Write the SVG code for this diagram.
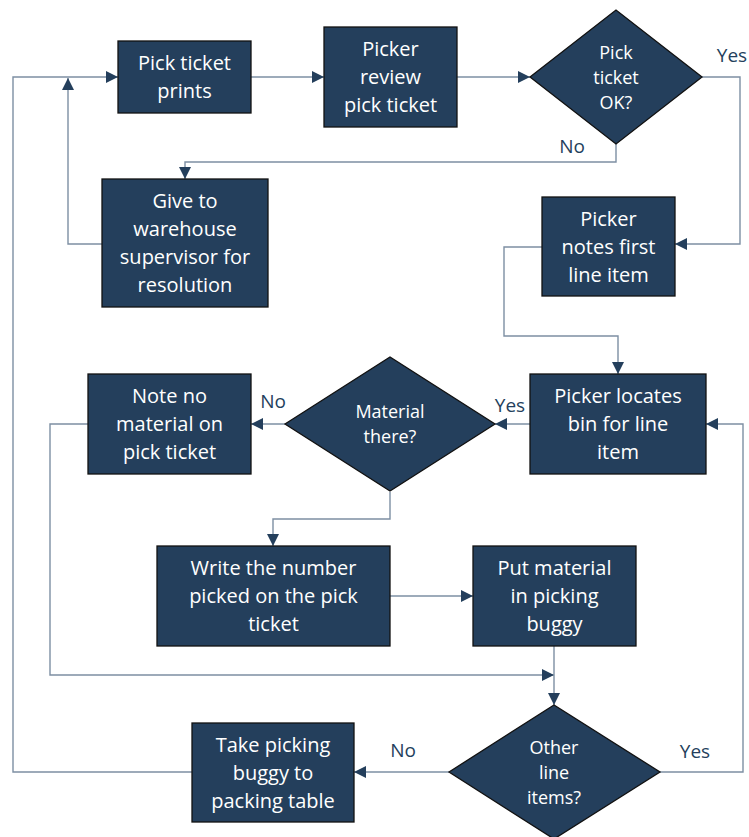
<svg xmlns="http://www.w3.org/2000/svg" width="749" height="837" viewBox="0 0 749 837">
<style>
.box{fill:#243F5C;stroke:#111;stroke-width:1.3}
.t{fill:#fff;font-family:"Open Sans","Liberation Sans",sans-serif;font-size:20px;text-anchor:middle}
.td{fill:#fff;font-family:"Open Sans","Liberation Sans",sans-serif;font-size:18px;text-anchor:middle}
.lbl{fill:#243F5C;font-family:"Open Sans","Liberation Sans",sans-serif;font-size:19px;text-anchor:middle}
.c{fill:none;stroke:#7D8FA3;stroke-width:1.4;marker-end:url(#ah)}
.cn{fill:none;stroke:#7D8FA3;stroke-width:1.4}
</style>
<defs>
<marker id="ah" markerUnits="userSpaceOnUse" markerWidth="13" markerHeight="13" viewBox="0 0 13 13" refX="12" refY="6.5" orient="auto">
<path d="M0,0.5 L12,6.5 L0,12.5 Z" fill="#243F5C"/>
</marker>
</defs>
<rect width="749" height="837" fill="#fff"/>
<g id="connectors">
<path class="c" d="M251,77 H324"/>
<path class="c" d="M457,77 H530"/>
<path class="c" d="M702,77 H740 V244 H675"/>
<path class="c" d="M616,144 V162 H185 V179"/>
<path class="c" d="M102,244 H68 V78"/>
<path class="c" d="M542,247 H504 V336 H618 V374"/>
<path class="c" d="M530,424 H495"/>
<path class="c" d="M285,424 H251"/>
<path class="c" d="M390,492 V519 H273 V546"/>
<path class="c" d="M390,596 H473"/>
<path class="c" d="M88,424 H50 V675 H554"/>
<path class="c" d="M554,646 V705"/>
<path class="c" d="M660,772 H743 V424 H706"/>
<path class="c" d="M449,772 H354"/>
<path class="c" d="M192,772 H13 V77 H118"/>
</g>
<g id="labels">
<text class="lbl" x="732" y="62">Yes</text>
<text class="lbl" x="572" y="153">No</text>
<text class="lbl" x="273" y="408">No</text>
<text class="lbl" x="510" y="412">Yes</text>
<text class="lbl" x="403" y="757">No</text>
<text class="lbl" x="695" y="758">Yes</text>
</g>
<g id="n1"><rect class="box" x="118" y="41" width="133" height="72"/>
<text class="t" x="184.5" y="70">Pick ticket</text><text class="t" x="184.5" y="98">prints</text></g>
<g id="n2"><rect class="box" x="324" y="27" width="133" height="100"/>
<text class="t" x="390.5" y="56">Picker</text><text class="t" x="390.5" y="84">review</text><text class="t" x="390.5" y="112">pick ticket</text></g>
<g id="n3"><polygon class="box" points="530,77 616,10 702,77 616,144"/>
<text class="td" x="616" y="59">Pick</text><text class="td" x="616" y="84">ticket</text><text class="td" x="616" y="109">OK?</text></g>
<g id="n4"><rect class="box" x="102" y="179" width="166" height="128"/>
<text class="t" x="185" y="208">Give to</text><text class="t" x="185" y="236">warehouse</text><text class="t" x="185" y="264">supervisor for</text><text class="t" x="185" y="292">resolution</text></g>
<g id="n5"><rect class="box" x="542" y="197" width="133" height="99"/>
<text class="t" x="608.5" y="226">Picker</text><text class="t" x="608.5" y="254">notes first</text><text class="t" x="608.5" y="282">line item</text></g>
<g id="n6"><rect class="box" x="530" y="374" width="176" height="100"/>
<text class="t" x="618" y="403">Picker locates</text><text class="t" x="618" y="431">bin for line</text><text class="t" x="618" y="459">item</text></g>
<g id="n7"><polygon class="box" points="285,424 390,357 495,424 390,491"/>
<text class="td" x="390" y="418">Material</text><text class="td" x="390" y="443">there?</text></g>
<g id="n8"><rect class="box" x="88" y="374" width="163" height="100"/>
<text class="t" x="169.5" y="403">Note no</text><text class="t" x="169.5" y="431">material on</text><text class="t" x="169.5" y="459">pick ticket</text></g>
<g id="n9"><rect class="box" x="157" y="546" width="233" height="100"/>
<text class="t" x="273.5" y="575">Write the number</text><text class="t" x="273.5" y="603">picked on the pick</text><text class="t" x="273.5" y="631">ticket</text></g>
<g id="n10"><rect class="box" x="473" y="546" width="163" height="100"/>
<text class="t" x="554.5" y="575">Put material</text><text class="t" x="554.5" y="603">in picking</text><text class="t" x="554.5" y="631">buggy</text></g>
<g id="n11"><polygon class="box" points="449,772 554,705 660,772 554,839"/>
<text class="td" x="554" y="754">Other</text><text class="td" x="554" y="779">line</text><text class="td" x="554" y="804">items?</text></g>
<g id="n12"><rect class="box" x="192" y="723" width="162" height="99"/>
<text class="t" x="273" y="752">Take picking</text><text class="t" x="273" y="780">buggy to</text><text class="t" x="273" y="808">packing table</text></g>
</svg>
